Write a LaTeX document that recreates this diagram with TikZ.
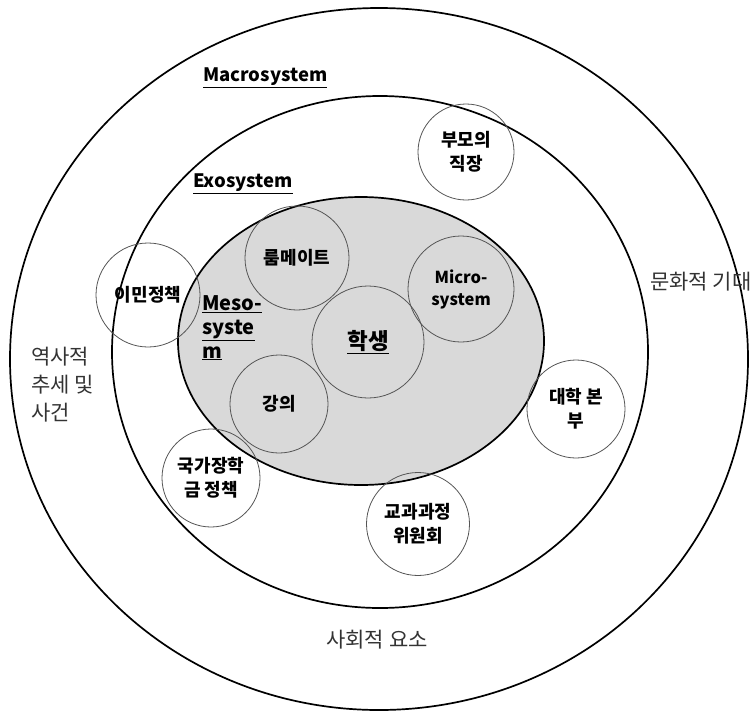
\documentclass[tikz,border=0pt]{standalone}
\usepackage{fontspec}
\setmainfont{Noto Sans CJK KR}
\usetikzlibrary{shapes.geometric}
\definecolor{mesofill}{HTML}{D9D9D9}
\definecolor{ringline}{HTML}{000000}
\definecolor{subline}{HTML}{555555}
\definecolor{outertext}{HTML}{333333}
\begin{document}
\begin{tikzpicture}[x=1pt,y=-1pt,
  ring/.style={ellipse, draw=ringline, line width=1.7pt, inner sep=0pt},
  sub/.style={circle, draw=subline, line width=0.8pt, inner sep=0pt, align=center,
    font=\bfseries\fontsize{18}{24}\selectfont},
  outerlabel/.style={inner sep=0pt, text=outertext, font=\fontsize{21}{28}\selectfont},
  syslabel/.style={inner sep=0pt, font=\bfseries\fontsize{18.5}{24}\selectfont}]
\useasboundingbox (0,0) rectangle (754,712);
\clip (0,0) rectangle (754,712);

% nested system rings
\node[ring, minimum width=738pt, minimum height=702pt] (macro) at (379,359) {};
\node[ring, minimum width=536pt, minimum height=512pt] (exo) at (380,352) {};
\node[ring, fill=mesofill, minimum width=366pt, minimum height=288pt] (meso) at (361,341) {};

% settings inside the rings
\node[sub, minimum size=96pt] (job) at (466,152) {부모의\\직장};
\node[sub, minimum size=104pt] (immig) at (148,295) {이민정책};
\node[sub, minimum size=104pt] (room) at (297,258) {룸메이트};
\node[sub, minimum size=106pt, font=\bfseries\fontsize{16.5}{22}\selectfont] (micro) at (461,289) {Micro-\\system};
\node[sub, minimum size=112pt, font=\bfseries\fontsize{22.5}{24}\selectfont] (student) at (368,342) {\underline{학생}};
\node[sub, minimum size=98pt] (lecture) at (279,404) {강의};
\node[sub, minimum size=98pt] (hq) at (576,409) {대학 본\\부};
\node[sub, minimum size=98pt] (grant) at (211,478) {국가장학\\금 정책};
\node[sub, minimum size=103pt] (curr) at (418,524) {교과과정\\위원회};

% system names
\node[syslabel, anchor=west] (macroname) at (203,78) {\underline{Macrosystem}};
\node[syslabel, anchor=west] (exoname) at (193,184) {\underline{Exosystem}};
\node[syslabel, anchor=north west, align=left, font=\bfseries\fontsize{20}{24}\selectfont] (mesoname) at (202,295)
  {\underline{Meso-}\\\underline{syste}\\\underline{m}};

% influences in the outer ring
\node[outerlabel, anchor=west] (culture) at (650,282) {문화적 기대};
\node[outerlabel, anchor=north west, align=left] (history) at (31,347) {역사적\\추세 및\\사건};
\node[outerlabel] (social) at (377,640) {사회적 요소};
\end{tikzpicture}
\end{document}
